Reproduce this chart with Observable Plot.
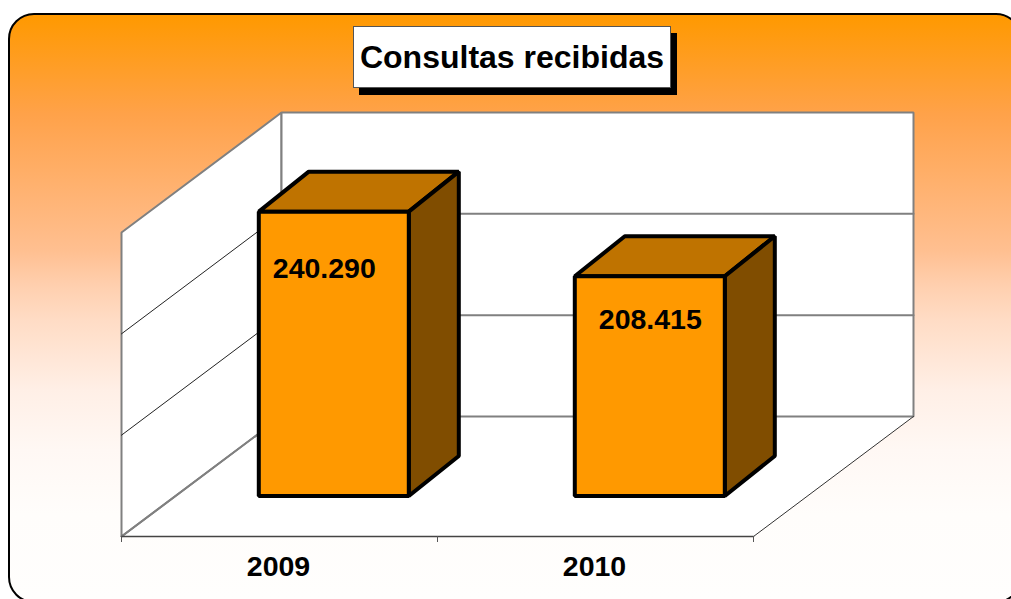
<!DOCTYPE html>
<html>
<head>
<meta charset="utf-8">
<script src="https://cdn.jsdelivr.net/npm/d3@7"></script>
<script src="https://cdn.jsdelivr.net/npm/@observablehq/plot@0.6"></script>
<style>
  html, body { margin: 0; padding: 0; background: #fff; overflow: hidden; }
  #stage { position: relative; width: 1011px; height: 599px; overflow: hidden; font-family: "Liberation Sans", Arial, sans-serif; }
  #panel { position: absolute; left: 8px; top: 13px; width: 1014px; height: 590px; box-sizing: border-box;
    border: 2.5px solid #000; border-radius: 26px;
    background: linear-gradient(to bottom, #ff9900 0px, #ffa24a 100px, #ffbf90 235px, #ffcfae 270px, #ffdcc5 305px, #ffefe6 375px, #fff8f4 435px, #fffdfb 500px, #fffefd 585px); }
  #title { position: absolute; left: 353px; top: 26px; width: 318px; height: 62px; box-sizing: border-box;
    background: #fff; border: 1px solid #555; box-shadow: 6px 7px 0 #000;
    font-weight: 700; font-size: 32px; line-height: 60px; text-align: center; color: #000; white-space: nowrap; }
  #chart { position: absolute; left: 0; top: 0; }
  #chart svg { background: transparent; display: block; }
</style>
</head>
<body>
<div id="stage">
  <div id="panel"></div>
  <div id="chart"></div>
  <div id="title">Consultas recibidas</div>
</div>
<script>
// Data
const years = ["2009", "2010"];
const consultas = [240290, 208415];
const gridValues = [150000, 200000];
const yMin = 100000, yMax = 250000;

// Oblique projection: depth in [0,1] shifts a point in data units
const width = 1011, height = 599;
const xScale = {domain: [0, 2], range: [121, 753]};
const yScale = {domain: [yMin, yMax], range: [536, 232]};
const unitsPerPxX = 2 / (753 - 121);
const unitsPerPxY = (yMax - yMin) / (536 - 232);
const depthX = 160 * unitsPerPxX, depthY = 120 * unitsPerPxY;
const P = (c, v, d = 0) => ({x: c + d * depthX, y: v + d * depthY});

// Bar geometry in category / depth units
const barStart = 0.2636, barWidth = 0.4747, barFront = 40.5 / 120;
const barBackX = 50 * unitsPerPxX, barBackY = 40 * unitsPerPxY;
const labelNudge = [[-9.5, 57], [0.5, 44]];

const fmt = d3.formatLocale({decimal: ",", thousands: ".", grouping: [3]}).format(",d");

const poly = (pts, o) => Plot.line(pts, {x: "x", y: "y", curve: "linear-closed", strokeLinejoin: "miter", ...o});
const seg = (pts, o) => Plot.line(pts, {x: "x", y: "y", ...o});

const marks = [];
// Walls and floor
marks.push(poly([P(0, yMin), P(2, yMin), P(2, yMin, 1), P(0, yMin, 1)], {fill: "white", stroke: "none"}));
marks.push(poly([P(0, yMin), P(0, yMax), P(0, yMax, 1), P(0, yMin, 1)], {fill: "white", stroke: "#808080", strokeWidth: 2}));
marks.push(poly([P(0, yMin, 1), P(0, yMax, 1), P(2, yMax, 1), P(2, yMin, 1)], {fill: "white", stroke: "#808080", strokeWidth: 2}));
// Gridlines
for (const g of gridValues) {
  marks.push(seg([P(0, g), P(0, g, 1)], {stroke: "#222", strokeWidth: 1}));
  marks.push(seg([P(0, g, 1), P(2, g, 1)], {stroke: "#808080", strokeWidth: 2}));
}
// Floor edges
marks.push(seg([P(0, yMin), P(0, yMin, 1)], {stroke: "#808080", strokeWidth: 2}));
marks.push(seg([P(2, yMin), P(2, yMin, 1)], {stroke: "#333", strokeWidth: 1}));
marks.push(seg([P(0, yMin), P(2, yMin)], {stroke: "#444", strokeWidth: 1.5}));

// Bars
consultas.forEach((v, i) => {
  const x0 = i + barStart, x1 = x0 + barWidth;
  const front = d => P(d[0], d[1], barFront);
  const tl = front([x0, v]), tr = front([x1, v]), bl = front([x0, yMin]), br = front([x1, yMin]);
  const back = p => ({x: p.x + barBackX, y: p.y + barBackY});
  const style = {stroke: "#000", strokeWidth: 4};
  marks.push(poly([tl, tr, back(tr), back(tl)], {fill: "#bf7300", ...style}));
  marks.push(poly([tr, br, back(br), back(tr)], {fill: "#804d00", ...style}));
  marks.push(poly([tl, tr, br, bl], {fill: "#ff9900", ...style}));
  marks.push(Plot.text([v], {
    x: () => tl.x + barWidth / 2, y: () => tl.y,
    text: d => fmt(d), dx: labelNudge[i][0], dy: labelNudge[i][1],
    fontSize: 28.5, fontWeight: 700, fill: "#000", lineAnchor: "middle"
  }));
});

// Category axis
marks.push(Plot.axisX({ticks: [0, 1, 2], tickSize: 6, tickFormat: () => "", stroke: "#555", anchor: "bottom", label: null}));
marks.push(Plot.text(years, {
  x: (d, i) => i + 0.5, y: yMin, text: d => d, dx: -1, dy: 30,
  fontSize: 28.5, fontWeight: 700, fill: "#000", lineAnchor: "middle"
}));

const chart = Plot.plot({
  width, height,
  marginTop: 0, marginRight: 0, marginBottom: 63, marginLeft: 0,
  x: {...xScale, axis: null},
  y: {...yScale, axis: null},
  style: {background: "transparent", fontFamily: '"Liberation Sans", Arial, sans-serif', overflow: "visible"},
  marks
});
document.getElementById("chart").appendChild(chart);
</script>
</body>
</html>
